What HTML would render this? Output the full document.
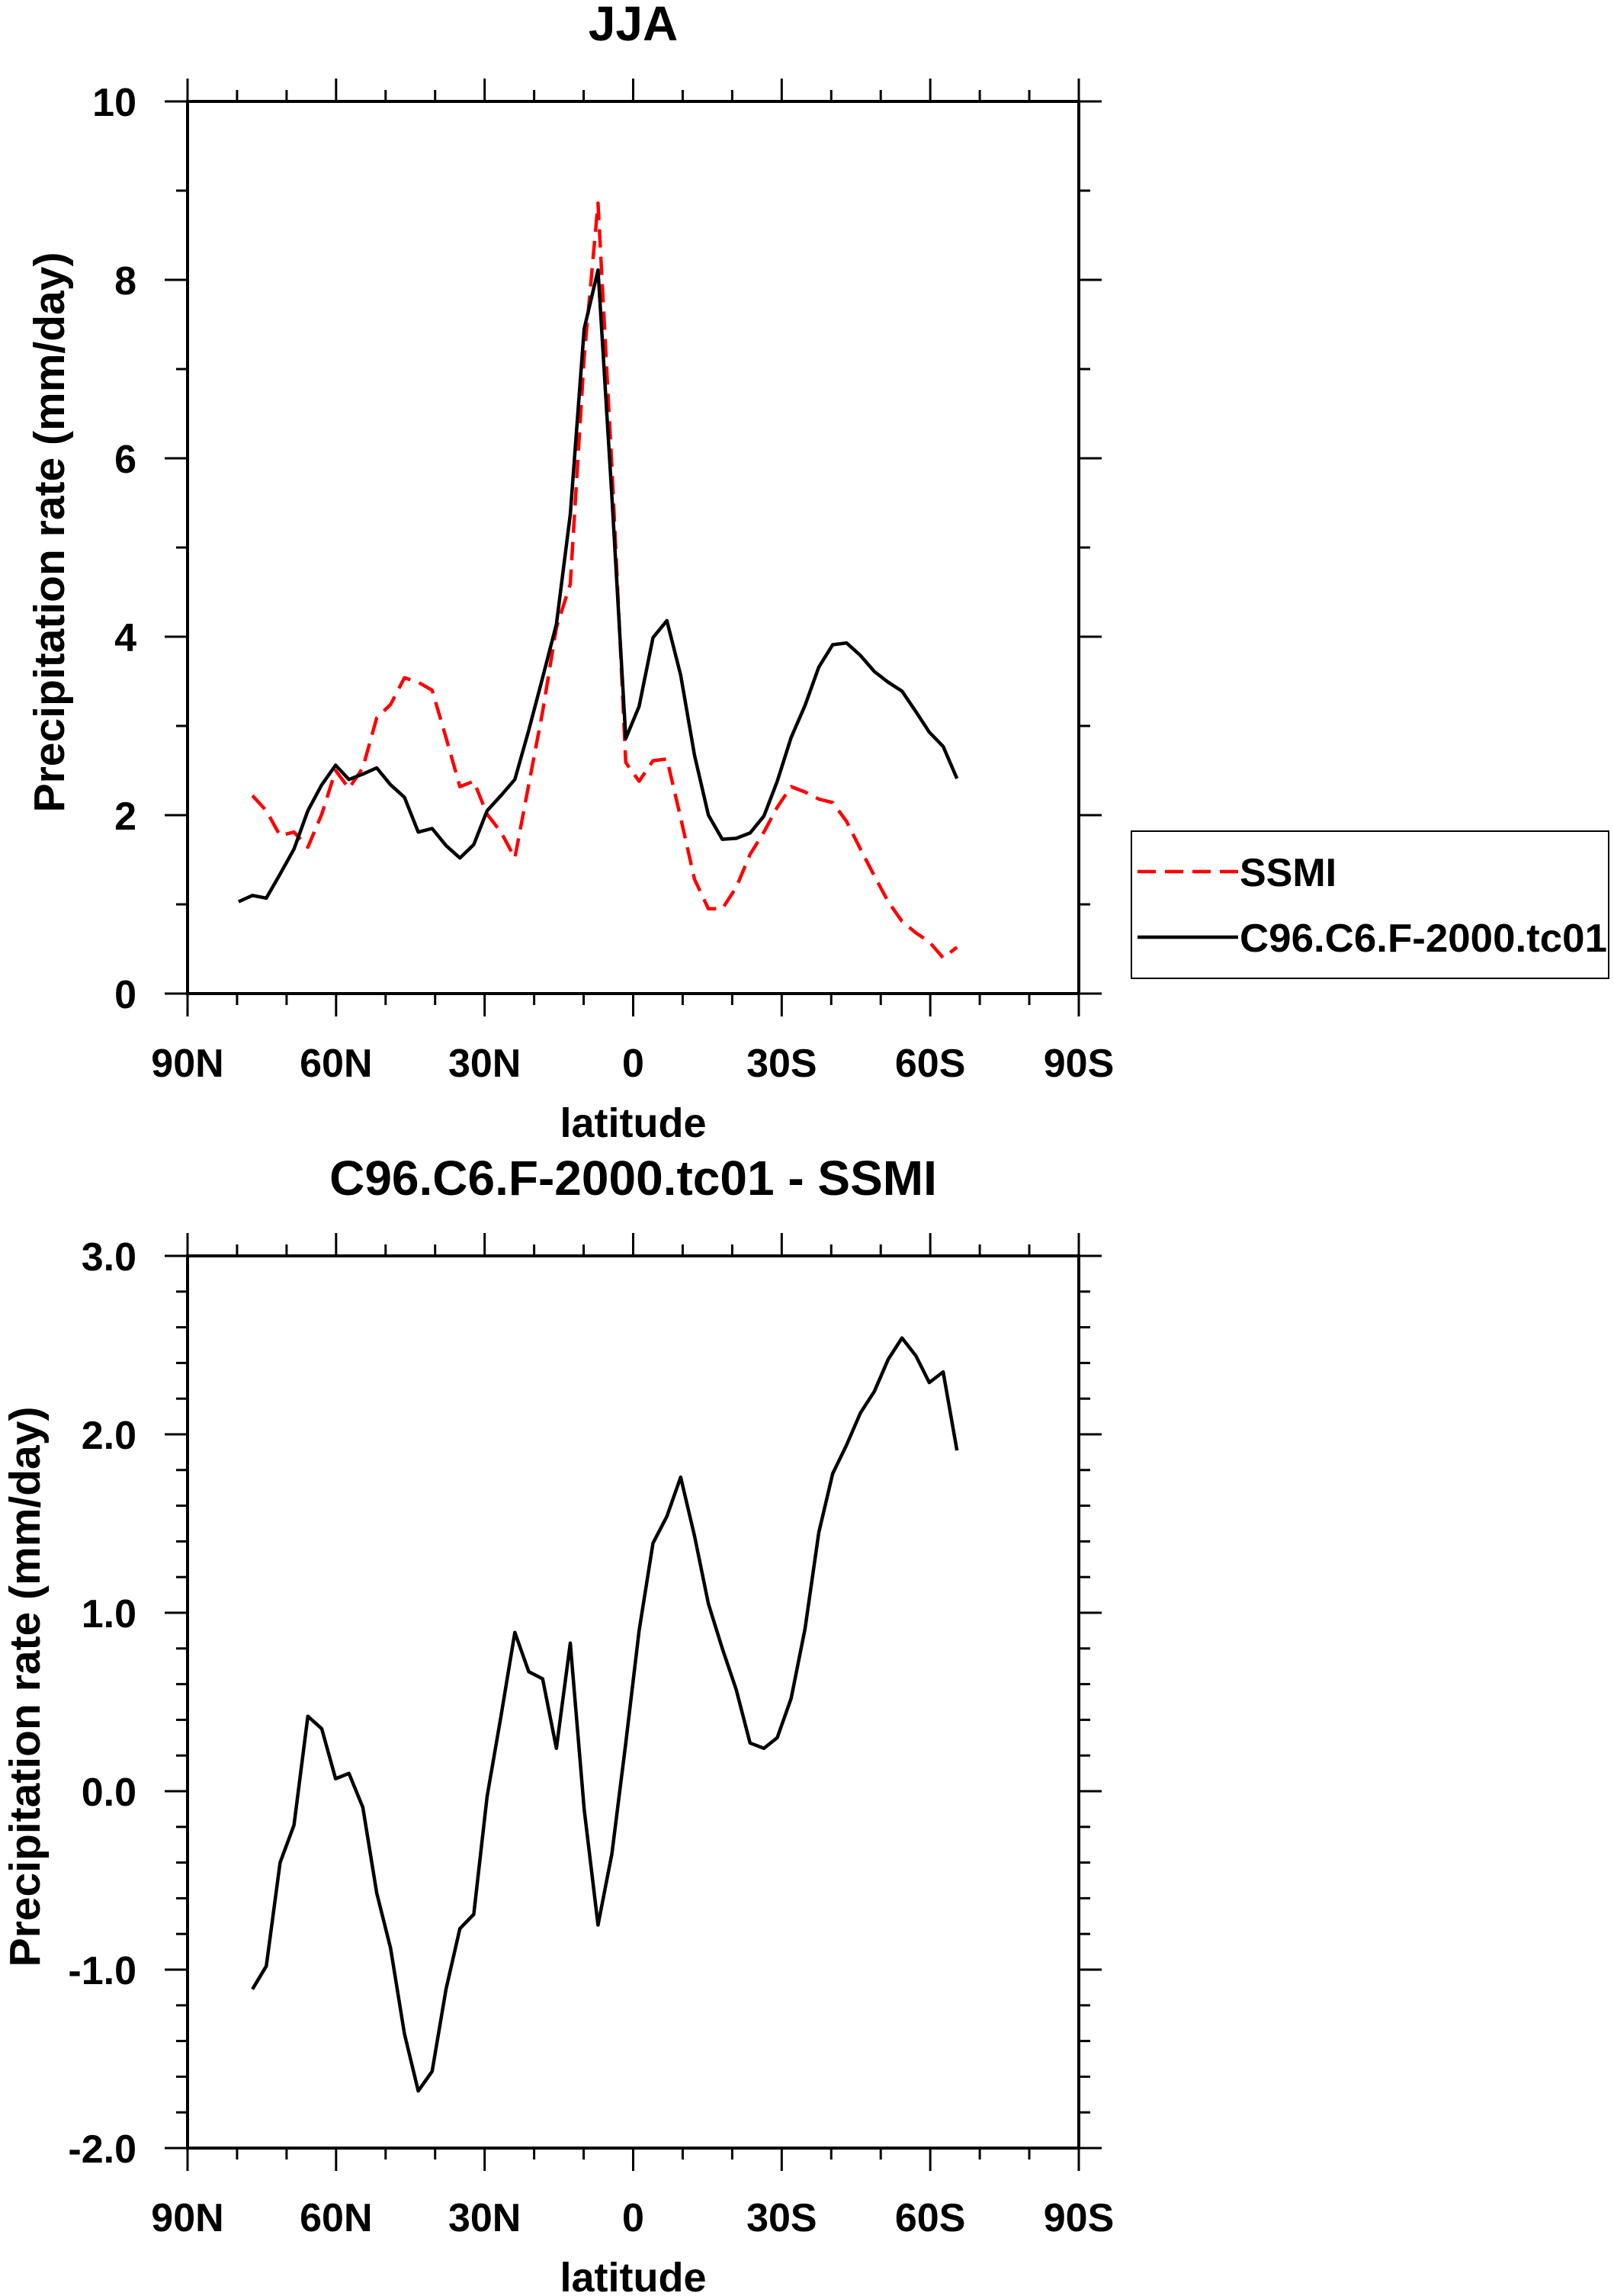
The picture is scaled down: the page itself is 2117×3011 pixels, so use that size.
<!DOCTYPE html>
<html><head><meta charset="utf-8"><style>
html,body{margin:0;padding:0;background:#fff;}
svg{display:block;font-family:"Liberation Sans",sans-serif;font-weight:bold;}
</style></head><body>
<svg id="chart" width="2117" height="3011" viewBox="0 0 2117 3011" xmlns="http://www.w3.org/2000/svg">
<g id="p1"></g>
<g id="p2"></g>
<g id="legend">
<rect x="1484" y="1090" width="626" height="193" fill="none" stroke="#000" stroke-width="2"/>
<line x1="1492" y1="1143" x2="1624" y2="1143" stroke="#f00" stroke-width="4.5" stroke-dasharray="24,12"/>
<text x="1626" y="1162" font-size="52">SSMI</text>
<line x1="1492" y1="1229" x2="1624" y2="1229" stroke="#000" stroke-width="4.5"/>
<text x="1626" y="1248" font-size="52" textLength="482" lengthAdjust="spacingAndGlyphs">C96.C6.F-2000.tc01</text>
</g>
</svg>
<script>
const lats = [79.7,76.9,74.1,71.3,68.5,65.7,62.9,60.1,57.4,54.6,51.8,49.0,46.2,43.4,40.6,37.8,35.0,32.2,29.5,26.7,23.9,21.1,18.3,15.5,12.7,9.9,7.1,4.3,1.5,-1.2,-4.0,-6.8,-9.6,-12.4,-15.2,-18.0,-20.8,-23.6,-26.4,-29.1,-31.9,-34.7,-37.5,-40.3,-43.1,-45.9,-48.7,-51.5,-54.3,-57.1,-59.8,-62.6,-65.4];
const modelVals = [1.03,1.10,1.07,1.34,1.62,2.05,2.34,2.56,2.40,2.46,2.53,2.34,2.20,1.81,1.85,1.66,1.52,1.67,2.05,2.22,2.40,2.95,3.54,4.14,5.37,7.45,8.11,5.57,2.86,3.22,3.99,4.18,3.57,2.67,2.00,1.73,1.74,1.80,1.99,2.38,2.87,3.23,3.66,3.91,3.93,3.79,3.61,3.49,3.39,3.16,2.93,2.77,2.41];
const ssmiVals = [null,2.22,2.05,1.77,1.81,1.64,2.01,2.50,2.30,2.53,3.09,3.24,3.54,3.49,3.40,2.87,2.32,2.38,2.01,1.81,1.52,2.34,3.16,4.10,4.59,7.13,8.86,5.90,2.59,2.38,2.61,2.63,1.97,1.28,0.95,0.95,1.19,1.56,1.81,2.09,2.32,2.26,2.18,2.14,1.93,1.62,1.32,1.03,0.81,0.68,0.58,0.40,0.52];
const diffVals = [null,-1.11,-0.98,-0.40,-0.19,0.42,0.35,0.07,0.10,-0.09,-0.57,-0.88,-1.36,-1.68,-1.57,-1.11,-0.77,-0.69,-0.03,0.42,0.89,0.67,0.63,0.24,0.83,-0.10,-0.75,-0.35,0.27,0.90,1.39,1.54,1.76,1.43,1.05,0.80,0.57,0.27,0.24,0.30,0.52,0.91,1.45,1.78,1.94,2.12,2.24,2.42,2.54,2.44,2.29,2.35,1.91];
const xTickVals = [90,60,30,0,-30,-60,-90];
const xTickLabels = ["90N","60N","30N","0","30S","60S","90S"];
const y1Ticks = [0,2,4,6,8,10];
const y1Labels = ["0","2","4","6","8","10"];
const y2Ticks = [-2,-1,0,1,2,3];
const y2Labels = ["-2.0","-1.0","0.0","1.0","2.0","3.0"];

const NS = "http://www.w3.org/2000/svg";
function mk(parent, tag, attrs){const e=document.createElementNS(NS,tag);for(const k in attrs)e.setAttribute(k,attrs[k]);parent.appendChild(e);return e;}

function panel(g, top, ymin, ymax, yTicks, yLabels, minorStep, title, ylabelX){
  const L=246,R=1415,T=top,B=top+1170;
  const xs=lat=>L+(90-lat)/180*(R-L);
  const ys=v=>B-(v-ymin)/(ymax-ymin)*(B-T);
  const ax=mk(g,"rect",{x:L,y:T,width:R-L,height:B-T,fill:"none",stroke:"#000","stroke-width":4});
  
  
  for(let lat=90;lat>=-90;lat-=10){
    const major=lat%30===0, len=major?30:15, x=xs(lat);
    const t1=mk(g,"line",{x1:x,y1:B,x2:x,y2:B+len,stroke:"#000","stroke-width":3});
    
    
    const t2=mk(g,"line",{x1:x,y1:T,x2:x,y2:T-len,stroke:"#000","stroke-width":3});
    
    
  }
  xTickVals.forEach((v,i)=>{
    const t=mk(g,"text",{x:xs(v),y:B+109,"font-size":52,"text-anchor":"middle"});
    t.textContent=xTickLabels[i];
    
    
  });
  for(let v=ymin; v<=ymax+1e-6; v+=minorStep){
    const isMaj=yTicks.some(t=>Math.abs(t-v)<1e-6), len=isMaj?30:15, y=ys(v);
    const a=mk(g,"line",{x1:L,y1:y,x2:L-len,y2:y,stroke:"#000","stroke-width":3});
    
    
    const b=mk(g,"line",{x1:R,y1:y,x2:R+len,y2:y,stroke:"#000","stroke-width":3});
    
    
  }
  yTicks.forEach((v,i)=>{
    const t=mk(g,"text",{x:179,y:ys(v)+19,"font-size":52,"text-anchor":"end"});
    t.textContent=yLabels[i];
    
    
  });
  const tt=mk(g,"text",{x:(L+R)/2,y:T-80,"font-size":64,"text-anchor":"middle"});
  tt.textContent=title;
  
  
  const xl=mk(g,"text",{x:(L+R)/2,y:B+188,"font-size":54,"text-anchor":"middle"});
  xl.textContent="latitude";
  
  
  const cy=(T+B)/2 - 20;
  const yl=mk(g,"text",{x:ylabelX,y:cy,"font-size":57,"text-anchor":"middle",transform:`rotate(-90 ${ylabelX} ${cy})`});
  yl.textContent="Precipitation rate (mm/day)";
  
  
  return {xs,ys};
}
function series(g,sc,vals,color,dash,name){
  const pts=[];vals.forEach((v,i)=>{if(v!==null)pts.push(sc.xs(lats[i]).toFixed(1)+","+sc.ys(v).toFixed(1));});
  const attrs={points:pts.join(" "),fill:"none",stroke:color,"stroke-width":4.5,"stroke-linejoin":"round"};
  if(dash)attrs["stroke-dasharray"]=dash;
  const p=mk(g,"polyline",attrs);
  
  
}
const g1=document.getElementById("p1"), g2=document.getElementById("p2");
const s1=panel(g1,133,0,10,y1Ticks,y1Labels,1,"JJA",84);
series(g1,s1,ssmiVals,"#f00","24,12","ssmi-line");
series(g1,s1,modelVals,"#000",null,"model-line");
const s2=panel(g2,1647,-2,3,y2Ticks,y2Labels,0.2,"C96.C6.F-2000.tc01 - SSMI",52);
series(g2,s2,diffVals,"#000",null,"difference-line");
</script>
</body></html>
